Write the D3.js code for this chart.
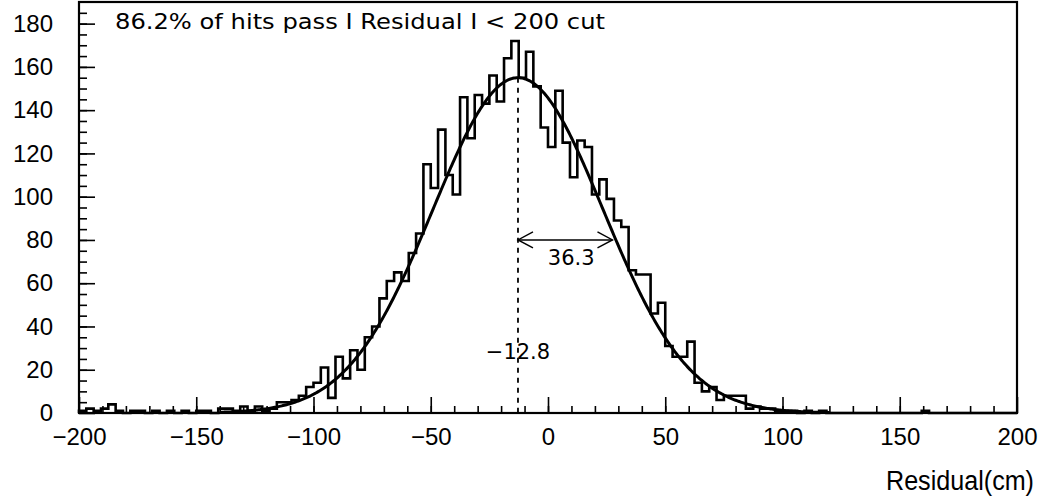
<!DOCTYPE html>
<html>
<head>
<meta charset="utf-8">
<script src="https://cdn.jsdelivr.net/npm/d3@7"></script>
<style>
  body { margin: 0; background: #fff; }
  svg { display: block; background: #fff; }
</style>
</head>
<body>
<div id="chart"></div>
<script>
// Residual histogram (-200..200 cm) with a gaussian fit drawn over it.

// histogram range and bin contents
const xMin = -200, xMax = 200;
const counts = [
  1, 2, 1, 2, 4, 1, 0, 1, 1, 0, 1, 0, 1, 0, 1, 0, 1, 1, 0, 2,
  2, 1, 3, 1, 3, 1, 2, 5, 5, 6, 8, 12, 14, 21, 7, 26, 16, 29, 20, 35,
  40, 53, 61, 65, 61, 74, 83, 115, 104, 131, 110, 101, 146, 127, 147, 143, 156, 144, 164, 172,
  155, 167, 151, 132, 123, 149, 125, 109, 126, 123, 101, 108, 99, 89, 86, 66, 64, 64, 46, 51,
  31, 26, 26, 33, 14, 10, 12, 6, 8, 8, 8, 2, 3, 2, 2, 1, 1, 1, 0, 1,
  0, 1, 0, 0, 0, 0, 0, 0, 0, 0, 0, 0, 0, 0, 0, 1, 0, 0, 0, 0,
  0, 0, 0, 0, 0, 0, 0, 0
];

// fit parameters printed on the chart
const fitMean = -12.8;
const fitSigma = 36.3;
const fitPeak = 155;

// axis ticks
const xMajorTicks = [-200, -150, -100, -50, 0, 50, 100, 150, 200];
const xMinorTicks = d3.range(-190, 200, 10);
const yMajorTicks = [0, 20, 40, 60, 80, 100, 120, 140, 160, 180];
const yMinorTicks = d3.range(5, 190, 5);

// labels
const headerText = "86.2% of hits pass I Residual I < 200 cut";
const xTitle = "Residual(cm)";
const meanLabel = "\u221212.8";
const widthLabel = "36.3";
const arrowSpan = [-12.8, 27.5];
const arrowLevel = 80;

const W = 1047, H = 503;
const x = d3.scaleLinear().domain([xMin, xMax]).range([79, 1017]);
const y = d3.scaleLinear().domain([0, 190]).range([413, 2]);

const svg = d3.select("#chart").append("svg")
  .attr("width", W)
  .attr("height", H);

const font = "'Liberation Sans', Arial, sans-serif";
const font2 = "'DejaVu Sans', sans-serif";

// x axis: ticks point up into the frame
const xAxisMajor = svg.append("g")
  .attr("transform", `translate(0,${y(0)})`)
  .call(d3.axisBottom(x).tickValues(xMajorTicks).tickSize(-16).tickSizeOuter(0).tickPadding(15));
const xAxisMinor = svg.append("g")
  .attr("transform", `translate(0,${y(0)})`)
  .call(d3.axisBottom(x).tickValues(xMinorTicks).tickSize(-7).tickFormat(""));

// y axis: ticks point right into the frame
const yAxisMajor = svg.append("g")
  .attr("transform", `translate(${x(xMin)},0)`)
  .call(d3.axisLeft(y).tickValues(yMajorTicks).tickSize(-16).tickSizeOuter(0).tickPadding(26));
const yAxisMinor = svg.append("g")
  .attr("transform", `translate(${x(xMin)},0)`)
  .call(d3.axisLeft(y).tickValues(yMinorTicks).tickSize(-8).tickFormat(""));

[xAxisMajor, xAxisMinor, yAxisMajor, yAxisMinor].forEach(g => {
  g.select(".domain").remove();
  g.selectAll(".tick line").attr("stroke", "#000").attr("stroke-width", 1.6);
  g.selectAll(".tick text")
    .style("font-family", font)
    .style("font-size", "24px")
    .attr("fill", "#000");
});

// frame
svg.append("rect")
  .attr("x", x(xMin))
  .attr("y", y(190))
  .attr("width", x(xMax) - x(xMin))
  .attr("height", y(0) - y(190))
  .attr("fill", "none")
  .attr("stroke", "#000")
  .attr("stroke-width", 2.2);

// histogram outline
const binW = (xMax - xMin) / counts.length;
const steps = [{ x: xMin, v: 0 }]
  .concat(counts.map((c, i) => ({ x: xMin + i * binW, v: c })))
  .concat([{ x: xMax, v: counts[counts.length - 1] }, { x: xMax, v: 0 }]);

svg.append("path")
  .datum(steps)
  .attr("fill", "none")
  .attr("stroke", "#000")
  .attr("stroke-width", 2.6)
  .attr("stroke-linejoin", "miter")
  .attr("d", d3.line().x(d => x(d.x)).y(d => y(d.v)).curve(d3.curveStepAfter));

// gaussian fit
const gauss = t => fitPeak * Math.exp(-((t - fitMean) ** 2) / (2 * fitSigma * fitSigma));
const fitPts = d3.range(-140, 120.5, 0.5).map(t => ({ x: t, v: gauss(t) }));
svg.append("path")
  .datum(fitPts)
  .attr("fill", "none")
  .attr("stroke", "#000")
  .attr("stroke-width", 3)
  .attr("d", d3.line().x(d => x(d.x)).y(d => y(d.v)).curve(d3.curveLinear));

// dashed line at the mean
svg.append("line")
  .attr("x1", x(fitMean)).attr("x2", x(fitMean))
  .attr("y1", y(fitPeak)).attr("y2", y(0))
  .attr("stroke", "#000")
  .attr("stroke-width", 1.8)
  .attr("stroke-dasharray", "5,5");

// width arrow with open heads
const ax0 = x(arrowSpan[0]), ax1 = x(arrowSpan[1]), ay = y(arrowLevel);
const arrow = svg.append("g").attr("stroke", "#000").attr("stroke-width", 1.4).attr("fill", "none");
arrow.append("line").attr("x1", ax0).attr("x2", ax1).attr("y1", ay).attr("y2", ay);
arrow.append("path").attr("d", `M${ax0 + 15},${ay - 8}L${ax0},${ay}L${ax0 + 15},${ay + 8}`);
arrow.append("path").attr("d", `M${ax1 - 15},${ay - 8}L${ax1},${ay}L${ax1 - 15},${ay + 8}`);

svg.append("text")
  .attr("x", (ax0 + ax1) / 2 + 6)
  .attr("y", ay + 25)
  .attr("text-anchor", "middle")
  .style("font-family", font2)
  .style("font-size", "21px")
  .text(widthLabel);

svg.append("text")
  .attr("x", x(fitMean))
  .attr("y", 359)
  .attr("text-anchor", "middle")
  .style("font-family", font2)
  .style("font-size", "21px")
  .text(meanLabel);

// header text inside the frame
svg.append("text")
  .attr("x", 115)
  .attr("y", 29)
  .attr("textLength", 490)
  .attr("lengthAdjust", "spacingAndGlyphs")
  .style("font-family", font2)
  .style("font-size", "22px")
  .text(headerText);

// x axis title
svg.append("text")
  .attr("x", 1034)
  .attr("y", 490)
  .attr("text-anchor", "end")
  .attr("textLength", 148)
  .attr("lengthAdjust", "spacingAndGlyphs")
  .style("font-family", font)
  .style("font-size", "27px")
  .text(xTitle);
</script>
</body>
</html>
